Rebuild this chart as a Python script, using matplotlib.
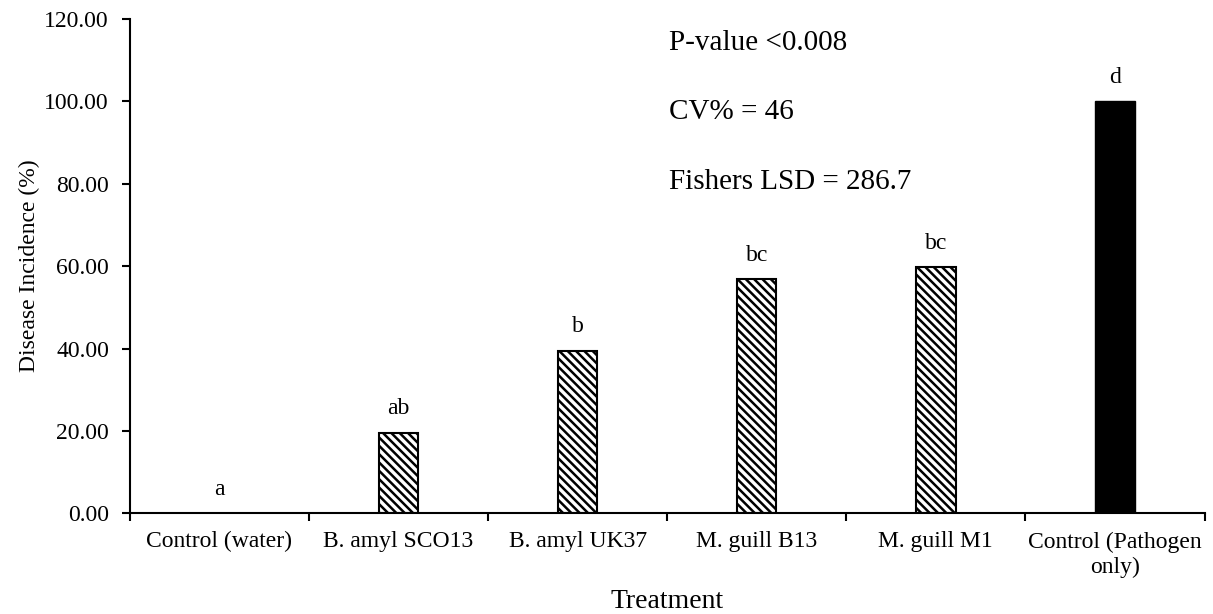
import matplotlib
matplotlib.use("Agg")
import matplotlib.pyplot as plt
import numpy as np

treatments = ["Control (water)", "B. amyl SCO13", "B. amyl UK37",
              "M. guill B13", "M. guill M1", "Control (Pathogen\nonly)"]
incidence = [0.0, 19.6, 39.5, 56.8, 59.8, 100.0]
letters = ["a", "ab", "b", "bc", "bc", "d"]
stats_text = ["P-value <0.008", "CV% = 46", "Fishers LSD = 286.7"]

plt.rcParams["font.family"] = ["Liberation Serif", "DejaVu Serif"]
plt.rcParams["hatch.color"] = "#505050"
plt.rcParams["hatch.linewidth"] = 1.8

fig = plt.figure(figsize=(12.13, 6.14), dpi=100)
ax = fig.add_axes([0.107, 0.164, 0.886, 0.805])

x = np.arange(len(treatments))
for i, v in enumerate(incidence):
    if i == len(treatments) - 1:
        ax.bar(x[i], v, width=0.22, color="black", edgecolor="black")
    elif v > 0:
        ax.bar(x[i], v, width=0.22, color="white", edgecolor="black",
               linewidth=1.5, hatch="\\\\\\\\")
    ax.text(x[i], v + 3.2, letters[i], ha="center", va="bottom", fontsize=17)

ax.set_xlim(-0.5, len(treatments) - 0.5)
ax.set_ylim(0, 120)
ax.set_yticks(np.arange(0, 121, 20))
ax.set_yticklabels([f"{t:.2f}" for t in np.arange(0, 121, 20)], fontsize=17)
ax.set_xticks(x)
ax.set_xticklabels(treatments, fontsize=17, linespacing=1.25)
ax.tick_params(axis="x", which="major", length=0, pad=13)
ax.set_xticks(np.arange(-0.5, len(treatments)), minor=True)
ax.tick_params(axis="x", which="minor", length=6, width=1.5, direction="out")
ax.tick_params(axis="y", length=6, width=1.5, direction="out", pad=9)

for side in ["top", "right"]:
    ax.spines[side].set_visible(False)
for side in ["left", "bottom"]:
    ax.spines[side].set_linewidth(1.5)

ax.set_ylabel("Disease Incidence (%)", fontsize=17, labelpad=3)
ax.set_xlabel("Treatment", fontsize=20, labelpad=8)

for j, s in enumerate(stats_text):
    ax.text(0.502, 0.952 - j * 0.141, s, transform=ax.transAxes,
            fontsize=21, va="center", ha="left")

fig.savefig("out.png", dpi=100)
